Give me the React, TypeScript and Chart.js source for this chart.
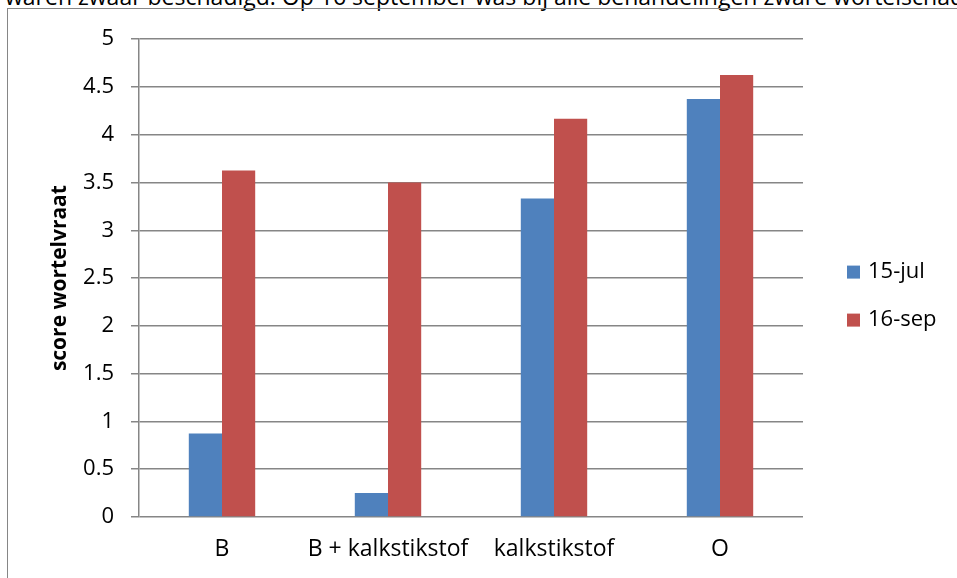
import React, { useEffect, useRef } from "react";
import { Chart, registerables } from "chart.js";

Chart.register(...registerables);

const categories = ["B", "B + kalkstikstof", "kalkstikstof", "O"];
const seriesLabels = ["15-jul", "16-sep"];
const julValues = [0.875, 0.25, 3.333, 4.375];
const sepValues = [3.625, 3.5, 4.167, 4.625];
const seriesColors = ["#4F81BD", "#C0504D"];
const yMin = 0;
const yMax = 5;
const yStep = 0.5;
const yTitle = "score wortelvraat";
const headerText =
  "waren zwaar beschadigd. Op 16 september was bij alle behandelingen zware wortelschade";

const FONT = "'Open Sans', 'Liberation Sans', sans-serif";
const GRID = "#868686";

const legendPlugin = {
  id: "sideLegend",
  afterDraw(chart: any) {
    const ctx = chart.ctx;
    const area = chart.chartArea;
    const mid = (area.top + area.bottom) / 2;
    ctx.save();
    ctx.font = "22px " + FONT;
    ctx.textBaseline = "middle";
    ctx.textAlign = "left";
    chart.data.datasets.forEach((ds: any, i: number) => {
      const cy = mid - 6 + i * 48;
      const x = area.right + 44;
      ctx.fillStyle = ds.backgroundColor;
      ctx.fillRect(x, cy - 6.5, 13, 13);
      ctx.fillStyle = "#000";
      ctx.fillText(ds.label, x + 21, cy);
    });
    ctx.restore();
  },
};

export default function App() {
  const ref = useRef<HTMLCanvasElement>(null);
  useEffect(() => {
    if (!ref.current) return;
    const chart = new Chart(ref.current, {
      type: "bar",
      data: {
        labels: categories,
        datasets: [
          { label: seriesLabels[0], data: julValues, backgroundColor: seriesColors[0] },
          { label: seriesLabels[1], data: sepValues, backgroundColor: seriesColors[1] },
        ],
      },
      options: {
        animation: false,
        responsive: false,
        maintainAspectRatio: false,
        layout: { padding: { top: 29, right: 154, bottom: 0, left: 0 } },
        datasets: { bar: { categoryPercentage: 0.4, barPercentage: 1 } },
        plugins: { legend: { display: false }, tooltip: { enabled: false } },
        scales: {
          x: {
            grid: { display: false, drawTicks: false },
            border: { display: false },
            ticks: {
              color: "#000",
              font: { family: FONT, size: 23 },
              padding: 19,
              autoSkip: false,
              maxRotation: 0,
              minRotation: 0,
            },
            afterFit: (s: any) => { s.height = 61; },
          },
          y: {
            min: yMin,
            max: yMax,
            ticks: {
              stepSize: yStep,
              color: "#000",
              font: { family: FONT, size: 22 },
              padding: 17,
              callback: (v: any) => String(Number(v)),
            },
            grid: { color: GRID, lineWidth: 1.5, tickLength: 8, drawTicks: true },
            border: { display: true, color: GRID, width: 1.5 },
            title: {
              display: true,
              text: yTitle,
              color: "#000",
              font: { family: FONT, size: 21, weight: "bold" },
              padding: { top: 39, bottom: 0 },
            },
            afterFit: (s: any) => { s.width = 131; },
          },
        },
      },
      plugins: [legendPlugin],
    });
    return () => chart.destroy();
  }, []);

  return (
    <div style={{ position: "absolute", left: 0, top: 0, width: 957, height: 578, overflow: "hidden", background: "#fff" }}>
      <div
        style={{
          position: "absolute",
          left: 5,
          top: -17,
          whiteSpace: "nowrap",
          fontFamily: FONT,
          fontSize: 23,
          lineHeight: "26px",
          color: "#000",
        }}
      >
        {headerText}
      </div>
      <div
        style={{
          position: "absolute",
          left: 7,
          top: 8,
          width: 1000,
          height: 600,
          border: "1.5px solid " + GRID,
          boxSizing: "border-box",
        }}
      />
      <canvas ref={ref} width={949} height={569} style={{ position: "absolute", left: 8, top: 9, width: 949, height: 569 }} />
    </div>
  );
}
